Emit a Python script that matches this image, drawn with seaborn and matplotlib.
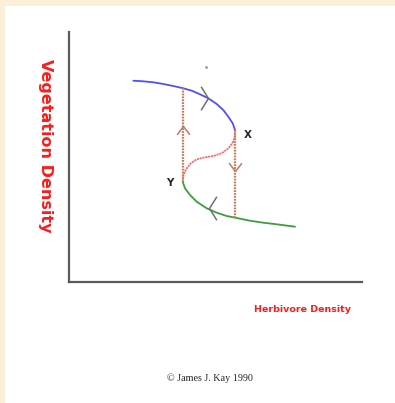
import numpy as np
import pandas as pd
import seaborn as sns
import matplotlib.pyplot as plt
from matplotlib.path import Path
from matplotlib.markers import MarkerStyle
from matplotlib.transforms import Affine2D
from matplotlib.patches import Rectangle

# curve (units: density, origin at the axes corner)
upper_x = [64.3, 74.3, 84.3, 94.3, 104.3, 114.3, 122.7, 131, 139.3, 147.7, 154.3, 159.3, 163.7, 166]
upper_y = [201.3, 200.7, 199.7, 198, 196, 193.7, 191.3, 187.7, 183.7, 178, 172, 165.3, 158.7, 152]
middle_x = [166, 166, 163.7, 159.3, 152.7, 144.3, 136, 127.7, 121.7, 117, 114.3, 113.7]
middle_y = [152, 145.3, 139.3, 133.7, 128.7, 126, 124.7, 122.7, 118.7, 112.7, 107, 100.3]
lower_x = [113.7, 116, 121, 127.7, 137.7, 147.7, 157.7, 167.7, 181, 194.3, 207.7, 226]
lower_y = [100.3, 93.7, 87, 80.3, 73.7, 69.3, 66, 64, 61.3, 59.3, 57.7, 55.3]

# vertical jumps between branches
jump_x = [114.3, 166]
jump_top = [193.7, 152]
jump_bottom = [100.3, 63.7]

# direction chevrons: x, y, angle (deg, 0 = pointing right)
flow_x = [138.5, 139.5]
flow_y = [184.5, 73.7]
flow_ang = [0, 180]
jump_arrow_x = [114.3, 166]
jump_arrow_y = [156, 111]
jump_arrow_ang = [90, -90]

point_names = ['X', 'Y']
point_x = [179, 101]
point_y = [147, 99]

upper = pd.DataFrame({'x': upper_x, 'y': upper_y})
middle = pd.DataFrame({'x': middle_x, 'y': middle_y})
lower = pd.DataFrame({'x': lower_x, 'y': lower_y})

sns.set_style('white')
fig = plt.figure(figsize=(3.95, 4.03), dpi=100)
fig.patch.set_facecolor('#fbefd9')
fig.add_artist(Rectangle((5 / 395, 0), 1, 1 - 6 / 403, transform=fig.transFigure,
                         facecolor='white', edgecolor='none', zorder=-10))

ax = fig.add_axes([69 / 395, 121 / 403, 293 / 395, 250 / 403])
ax.set_facecolor('none')
ax.set_zorder(5)

sns.lineplot(data=upper, x='x', y='y', sort=False, estimator=None, color='#4f4fff', lw=1.3, ax=ax)
sns.lineplot(data=middle, x='x', y='y', sort=False, estimator=None, color='#ff6a6a', lw=1.3,
             ls=(0, (1.2, 0.4)), ax=ax)
sns.lineplot(data=lower, x='x', y='y', sort=False, estimator=None, color='#3c9e3c', lw=1.3, ax=ax)

ax.vlines(jump_x, jump_bottom, jump_top, colors='#c8785a', lw=1.6, linestyles=(0, (0.8, 0.5)))

flow_chev = Path([(-1, 1.6), (0, 0), (-1, -1.6)], [Path.MOVETO, Path.LINETO, Path.LINETO])
jump_chev = Path([(-1.3, 1), (0, 0), (-1.3, -1)], [Path.MOVETO, Path.LINETO, Path.LINETO])
for x, y, a in zip(flow_x, flow_y, flow_ang):
    ax.plot(x, y, marker=MarkerStyle(flow_chev, transform=Affine2D().rotate_deg(a)),
            ms=17, mfc='none', mec='#707070', mew=1.1)
for x, y, a in zip(jump_arrow_x, jump_arrow_y, jump_arrow_ang):
    ax.plot(x, y, marker=MarkerStyle(jump_chev, transform=Affine2D().rotate_deg(a)),
            ms=12, mfc='none', mec='#c8785a', mew=1.1)

for name, x, y in zip(point_names, point_x, point_y):
    ax.text(x, y, name, fontsize=7.5, fontweight='bold', ha='center', va='center')

ax.plot(137, 215, marker='o', ms=1, color='#999999')

ax.set_xlim(0, 293)
ax.set_ylim(0, 250)
ax.set_xticks([])
ax.set_yticks([])
ax.set_xlabel('')
ax.set_ylabel('')
for side in ['top', 'right']:
    ax.spines[side].set_visible(False)
for side in ['left', 'bottom']:
    ax.spines[side].set_color('#5a5a5a')
    ax.spines[side].set_linewidth(1.6)

fig.text(45 / 395, 1 - 146 / 403, 'Vegetation Density', rotation=270, color='#ff1a1a',
         fontsize=11.5, fontweight='bold', ha='center', va='center')
fig.text(302 / 395, 1 - 309 / 403, 'Herbivore Density', color='#ff1a1a', fontsize=6.8,
         fontweight='bold', ha='center', va='center')
fig.text(210 / 395, 1 - 378 / 403, '\u00a9 James J. Kay 1990', family='Liberation Serif',
         fontsize=7.3, ha='center', va='center')

fig.savefig('out.png', dpi=100, facecolor=fig.get_facecolor())
